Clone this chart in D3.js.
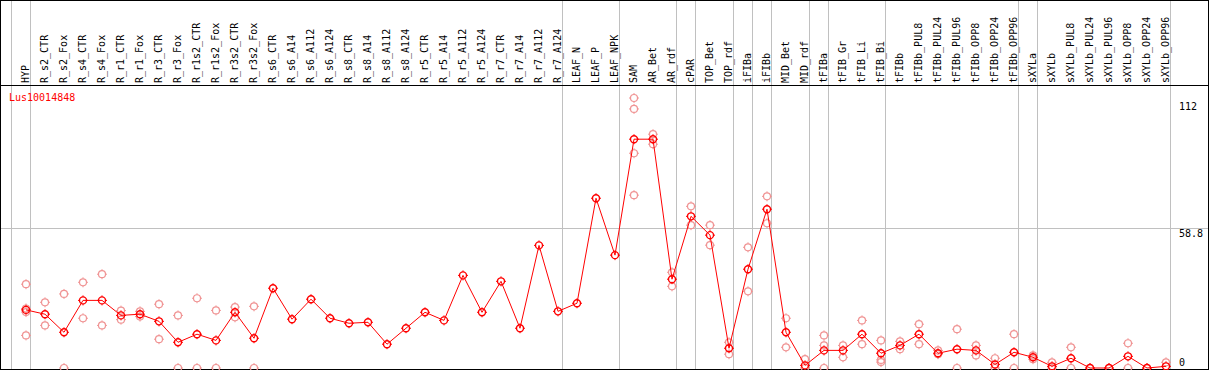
<!DOCTYPE html>
<html>
<head>
<meta charset="utf-8">
<script src="https://cdn.jsdelivr.net/npm/d3@7"></script>
<style>
  body { margin: 0; background: #fff; }
  svg text { font-family: "DejaVu Sans Mono", monospace; font-size: 10px; }
</style>
</head>
<body>
<div id="chart"></div>
<script>
// sample names (x categories)
const categories = ["HYP", "R_s2_CTR", "R_s2_Fox", "R_s4_CTR", "R_s4_Fox", "R_r1_CTR", "R_r1_Fox",
  "R_r3_CTR", "R_r3_Fox", "R_r1s2_CTR", "R_r1s2_Fox", "R_r3s2_CTR", "R_r3s2_Fox",
  "R_s6_CTR", "R_s6_A14", "R_s6_A112", "R_s6_A124", "R_s8_CTR", "R_s8_A14", "R_s8_A112", "R_s8_A124",
  "R_r5_CTR", "R_r5_A14", "R_r5_A112", "R_r5_A124", "R_r7_CTR", "R_r7_A14", "R_r7_A112", "R_r7_A124",
  "LEAF_N", "LEAF_P", "LEAF_NPK", "SAM", "AR_Bet", "AR_rdf", "cPAR", "TOP_Bet", "TOP_rdf",
  "iFIBa", "iFIBb", "MID_Bet", "MID_rdf", "tFIBa", "tFIB_Gr", "tFIB_Li", "tFIB_Bi", "tFIBb",
  "tFIBb_PUL8", "tFIBb_PUL24", "tFIBb_PUL96", "tFIBb_OPP8", "tFIBb_OPP24", "tFIBb_OPP96",
  "sXYLa", "sXYLb", "sXYLb_PUL8", "sXYLb_PUL24", "sXYLb_PUL96", "sXYLb_OPP8", "sXYLb_OPP24", "sXYLb_OPP96"];

// mean expression per sample
const meanValues = [24.4, 22.6, 15.0, 28.4, 28.4, 22.1, 22.6, 19.6, 10.8, 14.2, 11.6, 23.4, 12.5,
  33.5, 20.5, 28.9, 20.9, 18.8, 19.2, 10.0, 16.7, 23.4, 20.0, 38.9, 23.4, 36.4, 16.7, 51.5, 23.8,
  27.2, 71.3, 47.4, 96.1, 96.1, 37.3, 63.7, 55.8, 8.3, 41.5, 66.7, 15.0, 1.1, 7.4, 7.4, 14.2, 6.2, 9.5,
  14.2, 6.2, 7.9, 7.4, 1.5, 6.6, 4.5, 0.7, 4.1, 0, 0, 4.9, 0, 0.7];

// replicate values per sample
const replicates = [
  [35.2, 25.0, 23.5, 13.7], [27.6, 17.9], [31.1, 0], [36.0, 20.9], [39.4, 17.9],
  [24.1, 20.3], [23.8, 21.6], [26.8, 12.1], [22.1, 0], [29.3, 0], [24.2, 0], [25.6, 21.3], [25.9, 0],
  [], [], [], [], [], [], [], [], [], [], [], [], [], [], [], [],
  [], [], [],
  [113.4, 108.8, 90.2, 72.6], [98.2, 94.0], [40.2, 34.3], [67.9, 60.0], [60.0, 51.6], [10.8, 5.8],
  [50.7, 32.2], [72.1, 60.8], [20.9, 8.7], [3.7, 0], [13.7, 9.5, 0], [9.5, 4.5], [20.0, 10.0],
  [11.6, 3.4, 2.5], [11.2, 7.9],
  [18.4, 10.0], [7.4, 5.8], [16.3, 0], [9.5, 5.3], [4.1, 0], [14.2, 0],
  [5.3, 3.7], [2.4, 0], [8.7, 0], [0], [0], [10.4, 0], [0], [2.4]];

// first sample of each group (grey separators)
const groupStarts = ["HYP", "R_s2_CTR", "LEAF_N", "SAM", "cPAR", "TOP_Bet", "iFIBa", "iFIBb",
  "MID_Bet", "tFIBa", "tFIB_Gr", "tFIBb", "sXYLa", "sXYLb"];

const yTicks = [0, 58.8, 112];
const geneName = "Lus10014848";

const width = 1209, height = 370;
const headerH = 85.5;

const svg = d3.select("#chart").append("svg")
    .attr("width", width)
    .attr("height", height);

// scales
const x = d3.scalePoint()
    .domain(categories)
    .range([26, 26 + 19 * (categories.length - 1)]);
const step = x.step();

const y = d3.scaleLinear()
    .domain([0, 58.8])
    .range([368, 228]);

// vertical group separators
const sepX = groupStarts.map(c => Math.round(x(c) - step) + 4.5);
sepX.push(Math.round(x(categories[categories.length - 1])) + 4.5);
svg.append("g")
    .selectAll("line")
    .data(sepX)
    .join("line")
    .attr("x1", d => d).attr("x2", d => d)
    .attr("y1", 0).attr("y2", height)
    .attr("stroke", "#c0c0c0")
    .attr("shape-rendering", "crispEdges");

// horizontal grid line at middle tick
svg.append("line")
    .attr("x1", 0).attr("x2", width)
    .attr("y1", Math.round(y(58.8)) + 0.5).attr("y2", Math.round(y(58.8)) + 0.5)
    .attr("stroke", "#c0c0c0")
    .attr("shape-rendering", "crispEdges");

// frame
svg.append("rect")
    .attr("x", 0.5).attr("y", 0.5)
    .attr("width", width - 1.5).attr("height", height - 1)
    .attr("fill", "none")
    .attr("stroke", "#000")
    .attr("shape-rendering", "crispEdges");
svg.append("line")
    .attr("x1", 0).attr("x2", width)
    .attr("y1", headerH).attr("y2", headerH)
    .attr("stroke", "#000")
    .attr("shape-rendering", "crispEdges");

// header labels (rotated)
svg.append("g")
    .selectAll("text")
    .data(categories)
    .join("text")
    .attr("transform", d => `translate(${x(d) + 2.5},83) rotate(-90)`)
    .attr("fill", "#000")
    .text(d => d);

// y tick labels on the right
svg.append("g")
    .selectAll("text")
    .data(yTicks)
    .join("text")
    .attr("x", 1179)
    .attr("y", d => d === 0 ? y(d) - 2 : y(d) + 9)
    .attr("fill", "#000")
    .text(d => d);

// gene name
svg.append("text")
    .attr("x", 9)
    .attr("y", 101)
    .attr("fill", "#ff0000")
    .text(geneName);

// small circle marker with tick marks
function marker(g, cx, cy, color, sw) {
    g.append("circle")
        .attr("cx", cx).attr("cy", cy).attr("r", 3.5)
        .attr("fill", "none")
        .attr("stroke", color)
        .attr("stroke-width", sw);
    [[0, -1], [0, 1], [-1, 0], [1, 0]].forEach(([dx, dy]) => {
        g.append("line")
            .attr("x1", cx + dx * 3.5).attr("y1", cy + dy * 3.5)
            .attr("x2", cx + dx * 5).attr("y2", cy + dy * 5)
            .attr("stroke", color)
            .attr("stroke-width", 1);
    });
}

// replicate points
const repG = svg.append("g");
const repData = [];
replicates.forEach((reps, i) => reps.forEach(v => repData.push({ cat: categories[i], v })));
repData.forEach(d => marker(repG, x(d.cat), y(d.v), "#f09494", 1.2));

// mean line
const meanData = categories.map((c, i) => ({ cat: c, v: meanValues[i] }));
const line = d3.line()
    .x(d => x(d.cat))
    .y(d => y(d.v));
svg.append("path")
    .datum(meanData)
    .attr("fill", "none")
    .attr("stroke", "#ff0000")
    .attr("stroke-width", 1)
    .attr("d", line);

// mean points
const meanG = svg.append("g");
meanData.forEach(d => marker(meanG, x(d.cat), y(d.v), "#ff0000", 1.4));
</script>
</body>
</html>
